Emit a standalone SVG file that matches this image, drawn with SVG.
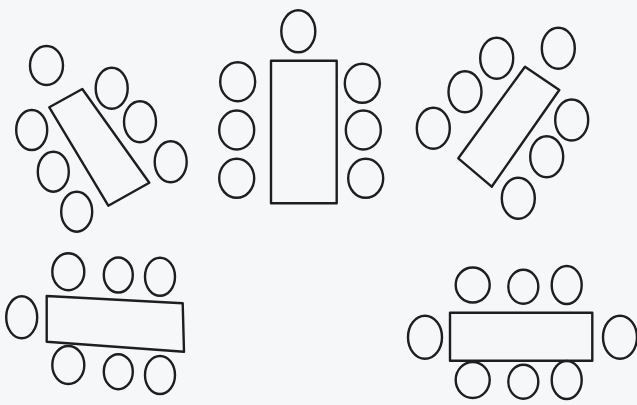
<svg xmlns="http://www.w3.org/2000/svg" width="637" height="405" viewBox="0 0 637 405">
<style>
.s{fill:none;stroke:#1e1e1e;stroke-width:2.4;stroke-linejoin:round}
</style>
<rect width="637" height="405" fill="#f6f7f8"/>
<g id="table1">
<polygon class="s" points="49.3,107.3 82.3,89 149.3,182.7 108.3,205.7"/>
<ellipse class="s" cx="46.5" cy="65.5" rx="16.5" ry="19.5"/>
<ellipse class="s" cx="111.7" cy="88.3" rx="16" ry="20.5"/>
<ellipse class="s" cx="140" cy="121.7" rx="16" ry="20.5"/>
<ellipse class="s" cx="170.7" cy="161.7" rx="16" ry="20.5"/>
<ellipse class="s" cx="31.7" cy="130" rx="15.5" ry="20"/>
<ellipse class="s" cx="53.3" cy="171.7" rx="15.5" ry="20"/>
<ellipse class="s" cx="76.7" cy="211.7" rx="15.5" ry="20"/>
</g>
<g id="table2">
<rect class="s" x="271" y="60.7" width="65.7" height="142.6"/>
<ellipse class="s" cx="298.3" cy="31.3" rx="17" ry="21"/>
<ellipse class="s" cx="237.7" cy="81.7" rx="17.5" ry="19.5"/>
<ellipse class="s" cx="236.7" cy="130" rx="17.5" ry="19.5"/>
<ellipse class="s" cx="236.7" cy="178.3" rx="17.5" ry="19.5"/>
<ellipse class="s" cx="362.3" cy="83.3" rx="17.5" ry="19.5"/>
<ellipse class="s" cx="363.3" cy="130" rx="17.5" ry="19.5"/>
<ellipse class="s" cx="365.7" cy="178.3" rx="17.5" ry="19.5"/>
</g>
<g id="table3">
<polygon class="s" points="525,66.7 559.3,90 491.7,186.7 458.3,158.3"/>
<ellipse class="s" cx="558.3" cy="48.3" rx="16.5" ry="20.5"/>
<ellipse class="s" cx="496.7" cy="58.3" rx="16.5" ry="20.5"/>
<ellipse class="s" cx="465" cy="91.7" rx="16.5" ry="20.5"/>
<ellipse class="s" cx="433.3" cy="128.3" rx="16.5" ry="20.5"/>
<ellipse class="s" cx="571.7" cy="120" rx="16.5" ry="20.5"/>
<ellipse class="s" cx="546.7" cy="156.7" rx="16.5" ry="20.5"/>
<ellipse class="s" cx="518.3" cy="198.3" rx="16.5" ry="20.5"/>
</g>
<g id="table4">
<polygon class="s" points="46.7,296 182.7,303.3 184,351.7 46.7,341.7"/>
<ellipse class="s" cx="68.3" cy="271.7" rx="16" ry="18.5"/>
<ellipse class="s" cx="118.3" cy="275" rx="14.5" ry="17.5"/>
<ellipse class="s" cx="160" cy="276.7" rx="15" ry="19"/>
<ellipse class="s" cx="21.7" cy="317.3" rx="15.5" ry="21"/>
<ellipse class="s" cx="68.3" cy="365" rx="16" ry="19"/>
<ellipse class="s" cx="118.3" cy="371.7" rx="14.5" ry="17.5"/>
<ellipse class="s" cx="160" cy="375" rx="15" ry="19"/>
</g>
<g id="table5">
<rect class="s" x="450" y="312.7" width="142.3" height="48"/>
<ellipse class="s" cx="472.7" cy="285" rx="17" ry="17.5"/>
<ellipse class="s" cx="523.3" cy="286.7" rx="15" ry="17"/>
<ellipse class="s" cx="566.7" cy="285" rx="15" ry="19"/>
<ellipse class="s" cx="425" cy="337.3" rx="17" ry="21.5"/>
<ellipse class="s" cx="620" cy="337.3" rx="17" ry="21.5"/>
<ellipse class="s" cx="472.7" cy="380" rx="17" ry="18"/>
<ellipse class="s" cx="523.3" cy="381.7" rx="15" ry="17"/>
<ellipse class="s" cx="566.7" cy="380" rx="15" ry="19"/>
</g>
</svg>
